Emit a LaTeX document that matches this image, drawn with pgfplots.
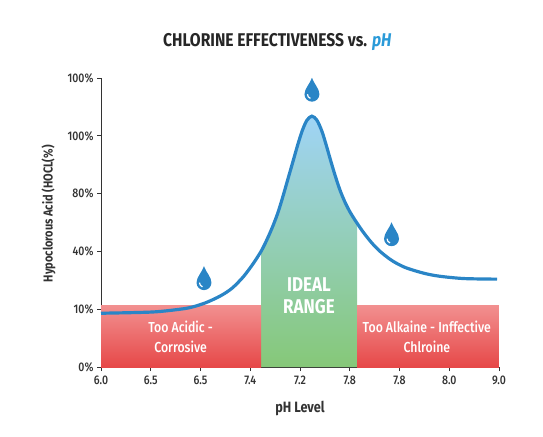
\documentclass[border=0pt]{standalone}
\usepackage{fontspec}
\setmainfont{Fira Sans}[FakeStretch=0.85]
\newfontfamily\medfont{Fira Sans Medium}[FakeStretch=0.85]
\usepackage{pgfplots}
\usepackage{pgfplotstable}
\pgfplotsset{compat=1.18}
\definecolor{curveblue}{HTML}{2A85C6}
\definecolor{titleblue}{HTML}{2A9AD8}
\definecolor{redtop}{HTML}{F29090}
\definecolor{redbot}{HTML}{E64848}
\definecolor{bandgreen}{HTML}{86C878}
\definecolor{peakblue}{HTML}{A0D4F6}
\definecolor{axisgray}{HTML}{333333}

\pgfdeclareplotmark{drop}{%
  \pgfpathmoveto{\pgfqpoint{0pt}{13pt}}%
  \pgfpathcurveto{\pgfqpoint{2pt}{7pt}}{\pgfqpoint{7.5pt}{2pt}}{\pgfqpoint{7.5pt}{-3.5pt}}%
  \pgfpatharc{0}{-180}{7.5pt}%
  \pgfpathcurveto{\pgfqpoint{-7.5pt}{2pt}}{\pgfqpoint{-2pt}{7pt}}{\pgfqpoint{0pt}{13pt}}%
  \pgfpathclose
  \pgfusepathqfill
  \pgfsetstrokecolor{white}%
  \pgfsetlinewidth{1.2pt}%
  \pgfpathmoveto{\pgfqpoint{-4.5pt}{-3.5pt}}%
  \pgfpatharc{180}{250}{4.5pt}%
  \pgfusepathqstroke
}

\pgfplotstableread{
x y
0 0.93
1.00 0.95
1.50 0.99
1.80 1.03
2.10 1.11
2.40 1.23
2.63 1.36
2.86 1.56
3.06 1.79
3.23 2.02
3.36 2.25
3.46 2.45
3.56 2.68
3.66 2.96
3.76 3.26
3.86 3.56
3.96 3.86
4.05 4.10
4.14 4.27
4.24 4.34
4.34 4.27
4.44 4.08
4.52 3.86
4.60 3.62
4.70 3.33
4.80 3.07
4.90 2.86
5.00 2.69
5.10 2.55
5.20 2.42
5.30 2.30
5.45 2.14
5.61 2.00
5.80 1.87
5.95 1.79
6.15 1.71
6.50 1.62
6.81 1.57
7.30 1.53
7.96 1.52
}\curve

\pgfplotstableread{
x y
2.07 1.52
4.24 4.78
5.84 2.28
}\drops

\begin{document}
\begin{tikzpicture}
\useasboundingbox (-101bp,-70bp) rectangle (442bp,367bp);
\begin{axis}[
  scale only axis,
  width=398bp, height=289bp,
  xmin=0, xmax=8, ymin=0, ymax=5,
  axis lines=left,
  axis line style={axisgray, line width=0.8pt, -},
  xtick={0,1,2,3,4,5,6,7,8},
  xticklabels={6.0,6.5,6.5,7.4,7.2,7.8,7.8,8.0,9.0},
  ytick={0,1,2,3,4,5},
  yticklabels={0\%,10\%,40\%,80\%,100\%,100\%},
  tick style={axisgray, line width=0.8pt},
  tick align=outside,
  major tick length=4bp,
  /pgf/number format/assume math mode=true,
  tick label style={font=\medfont\fontsize{12.5}{14}\selectfont, text=axisgray},
  xticklabel style={yshift=-1bp},
  xlabel={pH Level},
  ylabel={Hypoclorous Acid (HOCL(\%)},
  label style={text=axisgray},
  xlabel style={at={(axis description cs:0.5,-0.142)}, anchor=center, font=\fontsize{15}{17}\bfseries\selectfont},
  ylabel style={at={(axis description cs:-0.132,0.53)}, anchor=center, font=\fontsize{13}{15}\bfseries\selectfont},
  every axis title shift=0pt,
  title={CHLORINE EFFECTIVENESS vs. \textcolor{titleblue}{\itshape pH}},
  title style={at={(axis description cs:0.443,1.125)}, anchor=center, font=\fontsize{18.5}{21}\bfseries\selectfont, text=black!85},
  clip=false,
]
% ideal range fill under curve
\begin{scope}
\clip (axis cs:3.22,0) rectangle (axis cs:5.15,5);
\addplot[draw=none, smooth, tension=0.5, top color=peakblue, bottom color=bandgreen, middle color=peakblue!50!bandgreen] table {\curve} \closedcycle;
\end{scope}
% red bands
\addplot[draw=none, top color=redtop, bottom color=redbot] coordinates {(0,0) (0,1.07) (3.22,1.07) (3.22,0)} -- cycle;
\addplot[draw=none, top color=redtop, bottom color=redbot] coordinates {(5.15,0) (5.15,1.07) (8,1.07) (8,0)} -- cycle;
% curve
\addplot[curveblue, line width=3.2pt, smooth, tension=0.5] table {\curve};
% drops
\addplot[only marks, mark=drop, color=curveblue, fill=curveblue] table {\drops};
% texts
\node[white, align=center, font=\medfont\fontsize{14.5}{20}\selectfont] at (axis cs:1.6,0.52) {Too Acidic -\\Corrosive};
\node[white, align=center, font=\medfont\fontsize{14.5}{20}\selectfont] at (axis cs:6.55,0.52) {Too Alkaine - Inffective\\Chlroine};
\node[white, align=center, font=\fontsize{20}{22}\bfseries\selectfont] at (axis cs:4.18,1.23) {IDEAL\\RANGE};
\end{axis}
\end{tikzpicture}
\end{document}
